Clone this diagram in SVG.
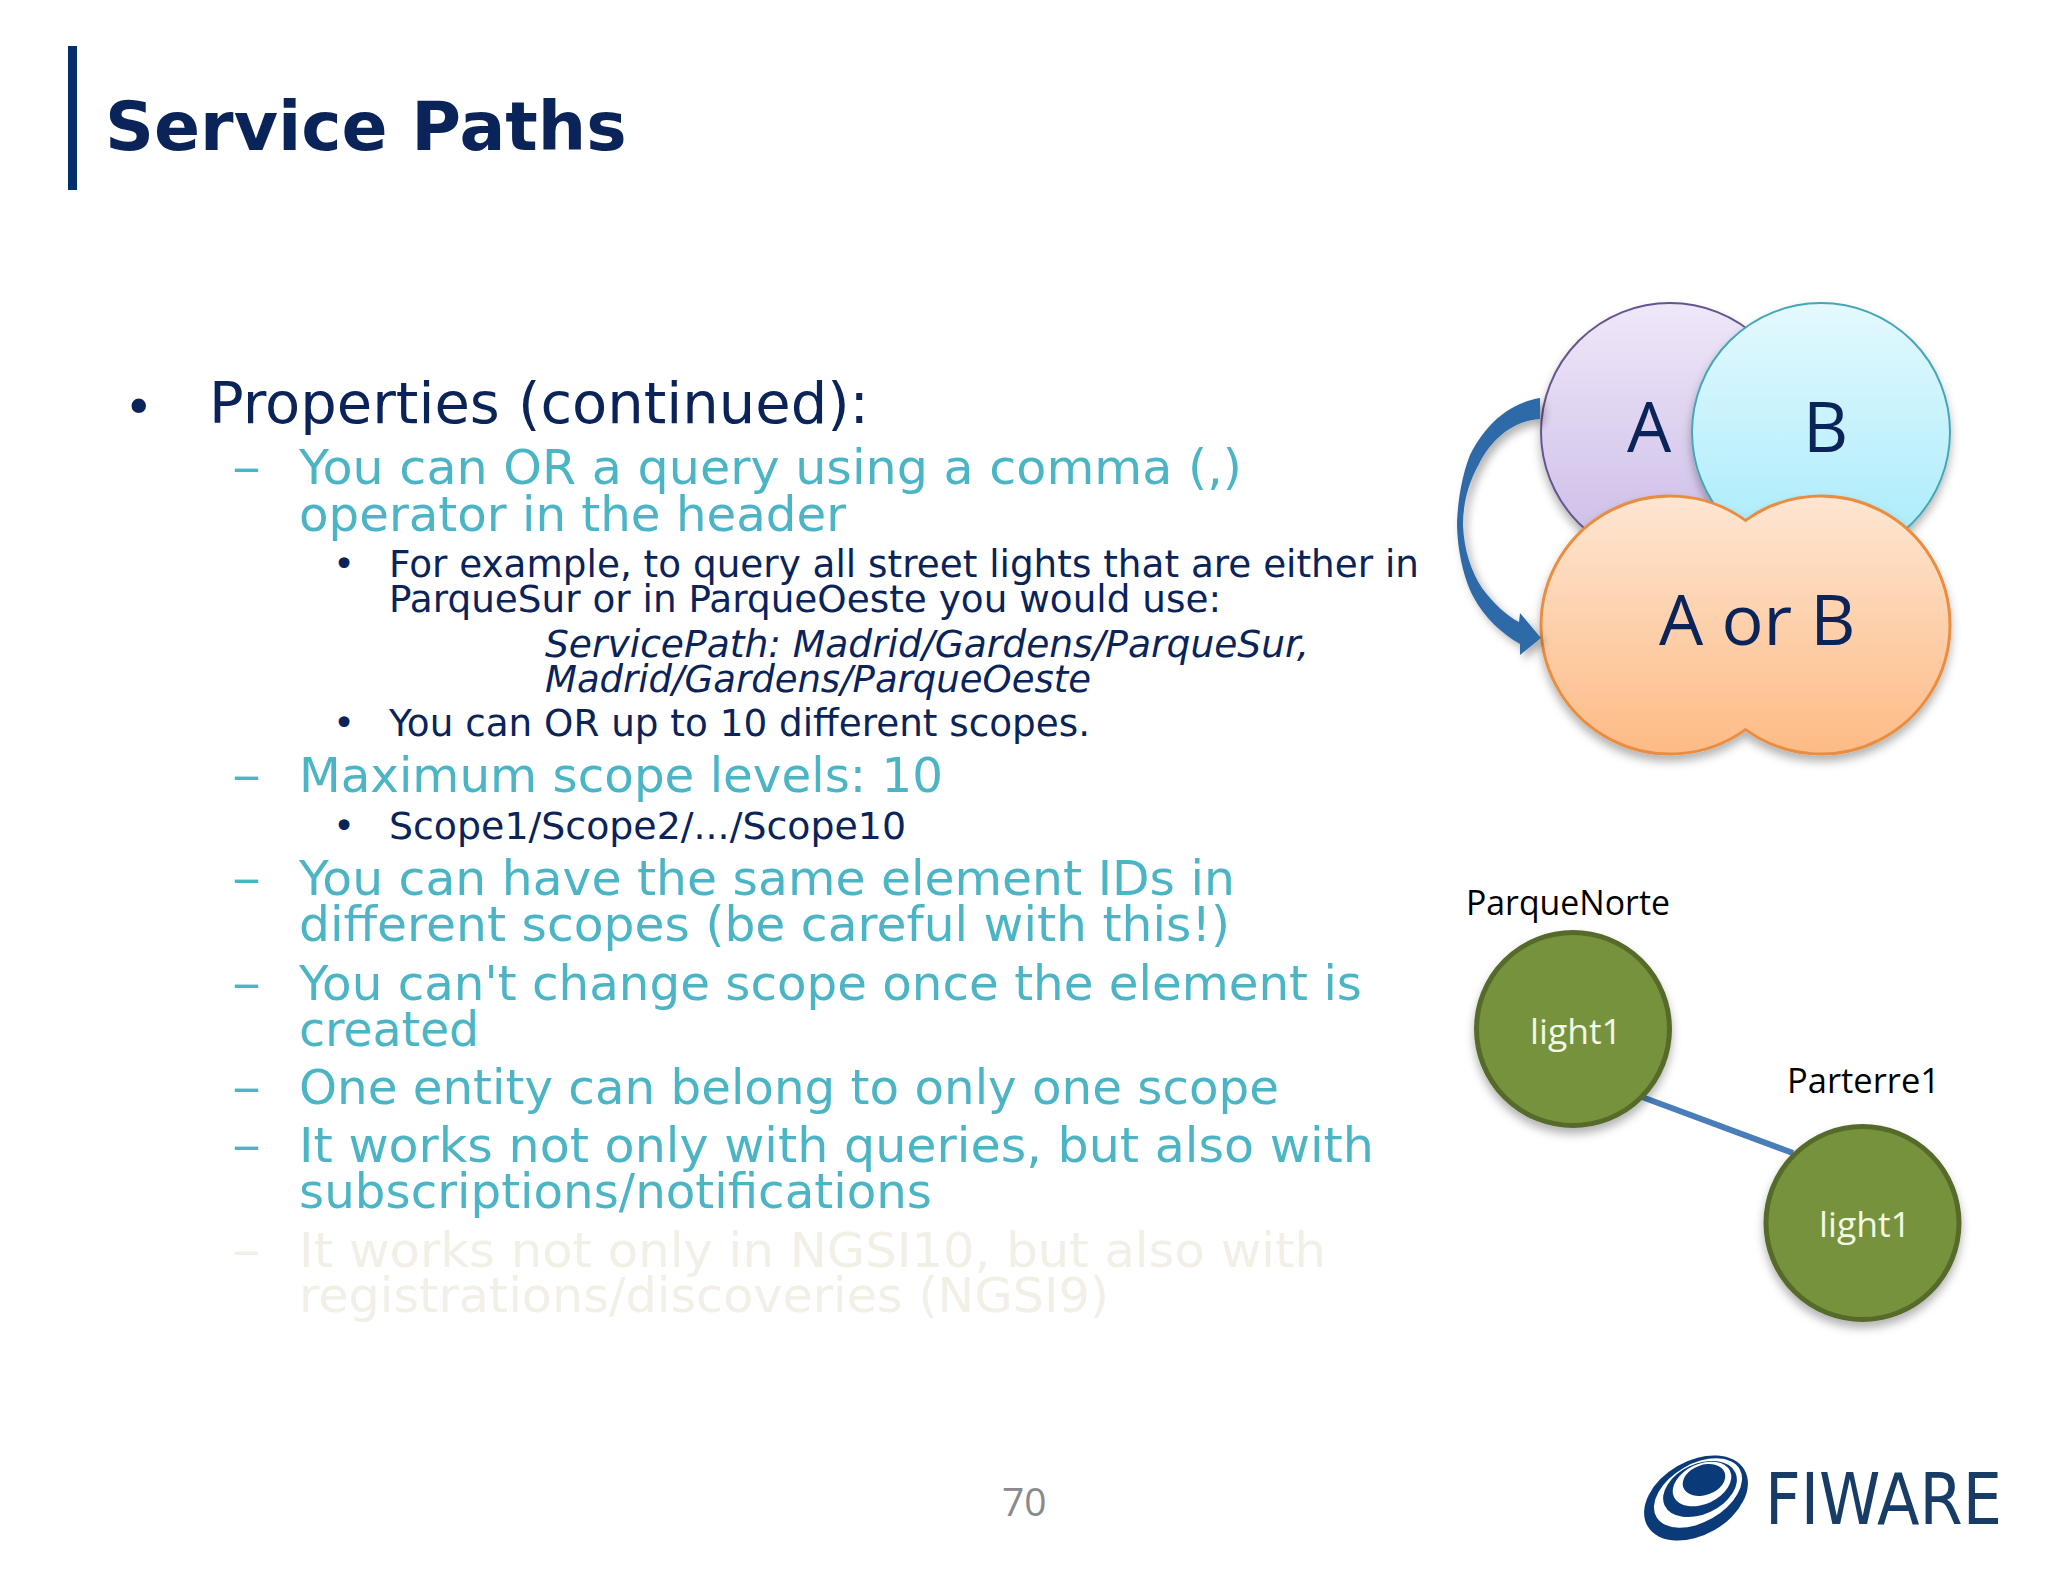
<svg xmlns="http://www.w3.org/2000/svg" width="2048" height="1573" viewBox="0 0 2048 1573">
<style>
text{font-family:"DejaVu Sans","Liberation Sans",sans-serif}
.d{fill:#0a2359}.t{fill:#4bb5c5}.f{fill:#f1efe6}
.l1{font-size:57.5px}.l2{font-size:48.6px}.l3{font-size:37.4px}.l3i{font-size:37.4px;font-style:italic}
.o{font-family:"Open Sans","Liberation Sans",sans-serif}
</style>
<defs>
<linearGradient id="ga" x1="0" y1="0" x2="0" y2="1"><stop offset="0" stop-color="#efe7f9"/><stop offset="1" stop-color="#cbbbe6"/></linearGradient>
<linearGradient id="gb" x1="0" y1="0" x2="0" y2="1"><stop offset="0" stop-color="#e4f9fe"/><stop offset="1" stop-color="#a6ebfb"/></linearGradient>
<linearGradient id="gc" x1="0" y1="0" x2="0" y2="1"><stop offset="0" stop-color="#fde6d3"/><stop offset="1" stop-color="#fdbb85"/></linearGradient>
<filter id="sh" x="-20%" y="-20%" width="140%" height="140%"><feDropShadow dx="0" dy="6" stdDeviation="5" flood-color="#000" flood-opacity=".3"/></filter>
<filter id="sh2" x="-30%" y="-20%" width="170%" height="140%"><feDropShadow dx="4" dy="5" stdDeviation="4" flood-color="#000" flood-opacity=".3"/></filter>
</defs>
<rect width="2048" height="1573" fill="#fff"/>
<g id="title"><rect x="68" y="46" width="9" height="144" fill="#002f6c"/>
<text x="105" y="150" font-size="68" font-weight="bold" fill="#0a2359">Service Paths</text></g>
<g id="body">
<text x="124" y="424" class="d" font-size="50">•</text>
<text x="209" y="423" class="d l1" textLength="660" lengthAdjust="spacingAndGlyphs">Properties (continued):</text>
<text x="232" y="484" class="t l2" textLength="29" lengthAdjust="spacingAndGlyphs">–</text>
<text x="299" y="484" class="t l2" textLength="943" lengthAdjust="spacingAndGlyphs">You can OR a query using a comma (,)</text>
<text x="299" y="531" class="t l2" textLength="547" lengthAdjust="spacingAndGlyphs">operator in the header</text>
<text x="333" y="577" class="d l3">•</text>
<text x="389" y="577" class="d l3" textLength="1030" lengthAdjust="spacingAndGlyphs">For example, to query all street lights that are either in</text>
<text x="389" y="612" class="d l3" textLength="832" lengthAdjust="spacingAndGlyphs">ParqueSur or in ParqueOeste you would use:</text>
<text x="545" y="657" class="d l3i" textLength="764" lengthAdjust="spacingAndGlyphs">ServicePath: Madrid/Gardens/ParqueSur,</text>
<text x="545" y="692" class="d l3i" textLength="546" lengthAdjust="spacingAndGlyphs">Madrid/Gardens/ParqueOeste</text>
<text x="333" y="736" class="d l3">•</text>
<text x="389" y="736" class="d l3" textLength="701" lengthAdjust="spacingAndGlyphs">You can OR up to 10 different scopes.</text>
<text x="232" y="792" class="t l2" textLength="29" lengthAdjust="spacingAndGlyphs">–</text>
<text x="299" y="792" class="t l2" textLength="644" lengthAdjust="spacingAndGlyphs">Maximum scope levels: 10</text>
<text x="333" y="839" class="d l3">•</text>
<text x="389" y="839" class="d l3" textLength="517" lengthAdjust="spacingAndGlyphs">Scope1/Scope2/.../Scope10</text>
<text x="232" y="895" class="t l2" textLength="29" lengthAdjust="spacingAndGlyphs">–</text>
<text x="299" y="895" class="t l2" textLength="936" lengthAdjust="spacingAndGlyphs">You can have the same element IDs in</text>
<text x="299" y="941" class="t l2" textLength="931" lengthAdjust="spacingAndGlyphs">different scopes (be careful with this!)</text>
<text x="232" y="1000" class="t l2" textLength="29" lengthAdjust="spacingAndGlyphs">–</text>
<text x="299" y="1000" class="t l2" textLength="1063" lengthAdjust="spacingAndGlyphs">You can't change scope once the element is</text>
<text x="299" y="1046" class="t l2" textLength="180" lengthAdjust="spacingAndGlyphs">created</text>
<text x="232" y="1104" class="t l2" textLength="29" lengthAdjust="spacingAndGlyphs">–</text>
<text x="299" y="1104" class="t l2" textLength="980" lengthAdjust="spacingAndGlyphs">One entity can belong to only one scope</text>
<text x="232" y="1162" class="t l2" textLength="29" lengthAdjust="spacingAndGlyphs">–</text>
<text x="299" y="1162" class="t l2" textLength="1075" lengthAdjust="spacingAndGlyphs">It works not only with queries, but also with</text>
<text x="299" y="1208" class="t l2" textLength="633" lengthAdjust="spacingAndGlyphs">subscriptions/notifications</text>
<text x="232" y="1267" class="f l2" textLength="29" lengthAdjust="spacingAndGlyphs">–</text>
<text x="299" y="1267" class="f l2" textLength="1027" lengthAdjust="spacingAndGlyphs">It works not only in NGSI10, but also with</text>
<text x="299" y="1312" class="f l2" textLength="810" lengthAdjust="spacingAndGlyphs">registrations/discoveries (NGSI9)</text>
</g>
<g id="nodeA"><circle cx="1670" cy="432" r="129" fill="url(#ga)" stroke="#65558f" stroke-width="2" filter="url(#sh)"/></g>
<g id="nodeB"><circle cx="1821" cy="432" r="129" fill="url(#gb)" stroke="#45a6b6" stroke-width="2" filter="url(#sh)"/></g>
<text id="labelA" x="1627" y="452" class="o" font-size="70" fill="#0a2359">A</text>
<text id="labelB" x="1803" y="452" class="o" font-size="70" fill="#0a2359">B</text>
<g id="nodeAorB"><path d="M1745.5 520.4A129 129 0 0 0 1541 625A129 129 0 0 0 1745.5 729.6A129 129 0 0 0 1950 625A129 129 0 0 0 1745.5 520.4Z" fill="url(#gc)" stroke="#e98d40" stroke-width="3" filter="url(#sh)"/>
<text x="1659" y="645" class="o" font-size="70" fill="#0a2359">A or B</text></g>
<g id="connectors">
<path d="M1540 398C1510 403 1486 423 1470 455C1462 475 1458 500 1457 522C1457 550 1464 580 1474 598C1484 617 1502 634 1520 644L1520 655L1541 638L1520 613L1519 622C1507 616 1493 603 1482 588C1471 571 1464 550 1463 525C1463 500 1470 480 1479 464C1491 440 1512 421 1540 419Z" fill="#2f69a8" filter="url(#sh2)"/>
<line x1="1642" y1="1097" x2="1793" y2="1153" stroke="#4a7ebb" stroke-width="6"/>
</g>
<g id="light1a"><text x="1466" y="915" class="o" font-size="33.8" fill="#000">ParqueNorte</text>
<circle cx="1573" cy="1029" r="96.5" fill="#76923c" stroke="#566b2c" stroke-width="5" filter="url(#sh)"/>
<text x="1530" y="1044" class="o" font-size="35.5" fill="#f2f7e6">light1</text></g>
<g id="light1b"><text x="1787" y="1093" class="o" font-size="34.5" fill="#000">Parterre1</text>
<circle cx="1862.5" cy="1223" r="96.5" fill="#76923c" stroke="#566b2c" stroke-width="5" filter="url(#sh)"/>
<text x="1819" y="1237" class="o" font-size="35.5" fill="#f2f7e6">light1</text></g>
<text id="page" x="1002" y="1516" class="o" font-size="39" fill="#8a8a8a">70</text>
<g id="logo">
<ellipse cx="1696" cy="1498" rx="56" ry="37" transform="rotate(-30 1696 1498)" fill="#0b3a78"/>
<ellipse cx="1698" cy="1493" rx="48" ry="29" transform="rotate(-30 1698 1493)" fill="#fff"/>
<ellipse cx="1700" cy="1489" rx="39" ry="25" transform="rotate(-25 1700 1489)" fill="#0b3a78"/>
<ellipse cx="1702" cy="1484" rx="31" ry="20" transform="rotate(-25 1702 1484)" fill="#fff"/>
<ellipse cx="1704" cy="1480" rx="22" ry="15" transform="rotate(-20 1704 1480)" fill="#0b3a78"/>
<text x="1765" y="1524" font-size="71" fill="#173c66" textLength="237" lengthAdjust="spacingAndGlyphs">FIWARE</text>
</g>
</svg>
